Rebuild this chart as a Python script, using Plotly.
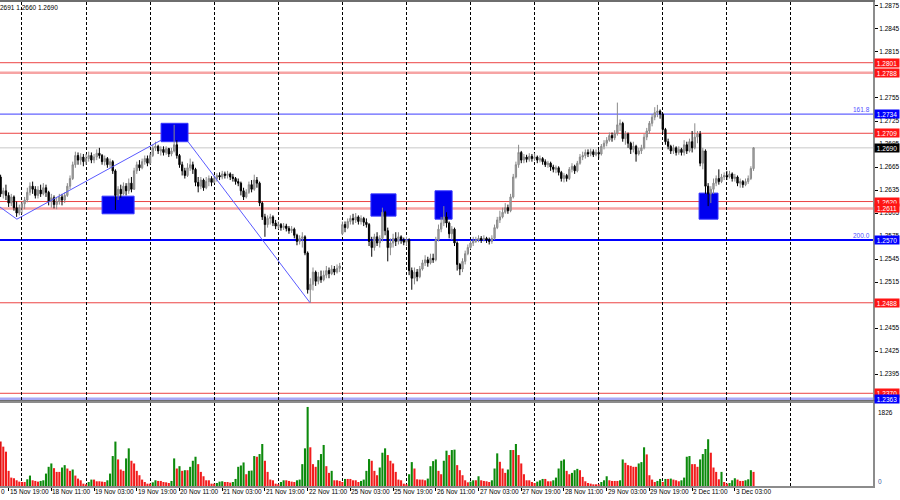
import plotly.graph_objects as go

# ---------------- data (GBPUSD H1, 15 Nov 16:00 .. 3 Dec 10:00) ----------------
opens = [
1.2652,1.2630,1.2634,1.2628,1.2618,1.2626,1.2612,1.2605,
1.2612,1.2617,1.2622,1.2632,1.2640,1.2636,1.2628,1.2635,1.2630,1.2638,1.2632,1.2620,1.2625,1.2616,1.2620,1.2626,
1.2622,1.2628,1.2640,1.2650,1.2668,1.2680,1.2674,1.2678,
1.2672,1.2676,1.2680,1.2674,1.2678,1.2683,1.2680,1.2672,1.2676,1.2668,1.2672,1.2660,1.2628,1.2636,1.2630,1.2640,
1.2634,1.2644,1.2636,1.2660,1.2668,1.2664,1.2672,1.2676,
1.2670,1.2680,1.2690,1.2692,1.2686,1.2688,1.2684,1.2689,1.2682,1.2686,1.2694,1.2680,1.2668,1.2660,1.2654,1.2664,
1.2668,1.2662,1.2645,1.2640,1.2648,1.2638,1.2646,1.2650,
1.2645,1.2650,1.2654,1.2652,1.2656,1.2654,1.2656,1.2652,1.2650,1.2646,1.2644,1.2634,1.2626,1.2632,1.2642,1.2636,
1.2648,1.2644,1.2618,1.2600,1.2590,1.2598,1.2600,1.2592,
1.2588,1.2590,1.2586,1.2588,1.2585,1.2582,1.2584,1.2576,1.2568,1.2572,1.2574,1.2553,1.2505,1.2512,1.2528,1.2516,
1.2522,1.2518,1.2524,1.2530,1.2526,1.2532,1.2528,1.2533,
1.2578,1.2590,1.2586,1.2594,1.2598,1.2596,1.2600,1.2594,1.2598,1.2593,1.2590,1.2568,1.2560,1.2574,1.2566,1.2572,
1.2606,1.2582,1.2560,1.2566,1.2572,1.2568,1.2574,1.2570,
1.2567,1.2570,1.2530,1.2520,1.2528,1.2522,1.2532,1.2540,1.2544,1.2540,1.2546,1.2544,1.2570,1.2584,1.2592,1.2600,
1.2592,1.2578,1.2584,1.2566,1.2538,1.2532,1.2542,1.2552,
1.2560,1.2566,1.2568,1.2570,1.2572,1.2570,1.2572,1.2570,1.2568,1.2572,1.2586,1.2596,1.2600,1.2606,1.2612,1.2608,
1.2626,1.2652,1.2668,1.2684,1.2674,1.2678,1.2675,1.2679,
1.2676,1.2678,1.2674,1.2676,1.2672,1.2668,1.2670,1.2665,1.2662,1.2664,1.2658,1.2650,1.2654,1.2650,1.2662,1.2666,
1.2660,1.2670,1.2678,1.2680,1.2684,1.2682,1.2685,1.2681,
1.2684,1.2682,1.2692,1.2696,1.2700,1.2706,1.2703,1.2709,1.2720,1.2722,1.2702,1.2708,1.2696,1.2688,1.2692,1.2682,
1.2686,1.2690,1.2704,1.2712,1.2722,1.2730,1.2736,1.2738,
1.2734,1.2714,1.2698,1.2692,1.2686,1.2690,1.2684,1.2688,1.2684,1.2694,1.2686,1.2698,1.2690,1.2704,1.2708,1.2670,
1.2686,1.2640,1.2630,1.2636,1.2644,1.2650,1.2646,1.2652,
1.2654,1.2652,1.2656,1.2650,1.2652,1.2644,1.2646,1.2642,1.2646,1.2650,1.2663,
]
highs = [
1.2655,1.2638,1.2642,1.2632,1.2630,1.2628,1.2620,1.2616,
1.2620,1.2626,1.2638,1.2645,1.2646,1.2640,1.2640,1.2642,1.2644,1.2642,1.2634,1.2630,1.2628,1.2626,1.2630,1.2630,
1.2632,1.2644,1.2654,1.2672,1.2685,1.2684,1.2683,1.2682,
1.2682,1.2685,1.2684,1.2682,1.2688,1.2690,1.2682,1.2680,1.2678,1.2676,1.2674,1.2662,1.2640,1.2642,1.2645,1.2644,
1.2650,1.2652,1.2664,1.2672,1.2674,1.2676,1.2680,1.2680,
1.2683,1.2694,1.2698,1.2694,1.2692,1.2692,1.2692,1.2690,1.2690,1.2720,1.2700,1.2682,1.2672,1.2664,1.2670,1.2676,
1.2672,1.2664,1.2652,1.2652,1.2650,1.2652,1.2654,1.2653,
1.2654,1.2657,1.2658,1.2660,1.2659,1.2660,1.2658,1.2656,1.2652,1.2650,1.2646,1.2638,1.2636,1.2646,1.2648,1.2655,
1.2652,1.2646,1.2620,1.2604,1.2602,1.2604,1.2602,1.2596,
1.2594,1.2592,1.2592,1.2591,1.2588,1.2588,1.2586,1.2578,1.2576,1.2580,1.2576,1.2555,1.2520,1.2534,1.2530,1.2528,
1.2530,1.2530,1.2536,1.2534,1.2537,1.2536,1.2538,1.2540,
1.2594,1.2594,1.2598,1.2602,1.2604,1.2605,1.2602,1.2602,1.2600,1.2598,1.2592,1.2574,1.2578,1.2580,1.2576,1.2612,
1.2608,1.2586,1.2572,1.2578,1.2580,1.2580,1.2576,1.2573,
1.2574,1.2572,1.2534,1.2534,1.2532,1.2536,1.2544,1.2550,1.2548,1.2552,1.2552,1.2574,1.2590,1.2600,1.2614,1.2606,
1.2594,1.2588,1.2586,1.2568,1.2540,1.2546,1.2556,1.2564,
1.2570,1.2574,1.2574,1.2576,1.2575,1.2576,1.2574,1.2573,1.2576,1.2590,1.2600,1.2608,1.2612,1.2618,1.2616,1.2630,
1.2656,1.2672,1.2694,1.2686,1.2682,1.2681,1.2683,1.2682,
1.2683,1.2680,1.2680,1.2678,1.2675,1.2673,1.2672,1.2668,1.2667,1.2666,1.2660,1.2657,1.2656,1.2665,1.2670,1.2668,
1.2673,1.2682,1.2685,1.2688,1.2688,1.2689,1.2688,1.2688,
1.2687,1.2695,1.2700,1.2704,1.2710,1.2710,1.2713,1.2749,1.2727,1.2724,1.2712,1.2710,1.2698,1.2698,1.2694,1.2690,
1.2694,1.2708,1.2716,1.2725,1.2734,1.2743,1.2746,1.2740,
1.2735,1.2716,1.2702,1.2694,1.2694,1.2692,1.2692,1.2690,1.2700,1.2698,1.2702,1.2712,1.2722,1.2712,1.2712,1.2690,
1.2688,1.2644,1.2640,1.2650,1.2654,1.2662,1.2656,1.2658,
1.2660,1.2660,1.2658,1.2656,1.2654,1.2650,1.2648,1.2650,1.2654,1.2666,1.2691,
]
lows = [
1.2626,1.2624,1.2622,1.2613,1.2614,1.2608,1.2600,1.2602,
1.2604,1.2610,1.2619,1.2628,1.2630,1.2624,1.2624,1.2626,1.2628,1.2626,1.2615,1.2612,1.2611,1.2610,1.2616,1.2615,
1.2618,1.2626,1.2636,1.2648,1.2664,1.2668,1.2668,1.2666,
1.2668,1.2672,1.2670,1.2670,1.2674,1.2676,1.2668,1.2667,1.2664,1.2664,1.2656,1.2609,1.2622,1.2625,1.2628,1.2628,
1.2630,1.2632,1.2635,1.2656,1.2660,1.2662,1.2668,1.2666,
1.2668,1.2678,1.2686,1.2682,1.2680,1.2680,1.2681,1.2678,1.2679,1.2684,1.2676,1.2664,1.2654,1.2650,1.2652,1.2660,
1.2656,1.2640,1.2632,1.2636,1.2634,1.2636,1.2640,1.2640,
1.2644,1.2646,1.2648,1.2649,1.2650,1.2650,1.2648,1.2646,1.2642,1.2640,1.2628,1.2622,1.2624,1.2630,1.2632,1.2634,
1.2638,1.2614,1.2596,1.2574,1.2586,1.2590,1.2588,1.2584,
1.2584,1.2582,1.2583,1.2581,1.2578,1.2579,1.2572,1.2563,1.2564,1.2560,1.2550,1.2500,1.2488,1.2504,1.2510,1.2512,
1.2514,1.2516,1.2520,1.2520,1.2524,1.2524,1.2526,1.2528,
1.2576,1.2580,1.2584,1.2590,1.2590,1.2592,1.2590,1.2590,1.2588,1.2586,1.2562,1.2548,1.2556,1.2562,1.2560,1.2568,
1.2576,1.2542,1.2550,1.2560,1.2562,1.2564,1.2565,1.2563,
1.2562,1.2524,1.2505,1.2512,1.2516,1.2520,1.2530,1.2536,1.2535,1.2538,1.2540,1.2542,1.2568,1.2580,1.2588,1.2586,
1.2572,1.2570,1.2562,1.2530,1.2524,1.2528,1.2538,1.2550,
1.2558,1.2562,1.2566,1.2567,1.2566,1.2568,1.2566,1.2564,1.2565,1.2570,1.2584,1.2592,1.2598,1.2604,1.2604,1.2606,
1.2624,1.2650,1.2664,1.2670,1.2670,1.2671,1.2672,1.2672,
1.2673,1.2670,1.2671,1.2668,1.2665,1.2664,1.2660,1.2658,1.2657,1.2654,1.2646,1.2645,1.2646,1.2648,1.2658,1.2656,
1.2658,1.2668,1.2674,1.2676,1.2678,1.2679,1.2678,1.2679,
1.2676,1.2680,1.2688,1.2692,1.2698,1.2698,1.2700,1.2706,1.2712,1.2698,1.2694,1.2690,1.2682,1.2684,1.2672,1.2680,
1.2682,1.2688,1.2700,1.2708,1.2718,1.2726,1.2730,1.2728,
1.2710,1.2694,1.2688,1.2682,1.2682,1.2680,1.2681,1.2680,1.2680,1.2682,1.2684,1.2684,1.2688,1.2696,1.2666,1.2662,
1.2630,1.2614,1.2618,1.2630,1.2640,1.2642,1.2644,1.2648,
1.2648,1.2650,1.2646,1.2646,1.2640,1.2638,1.2638,1.2640,1.2643,1.2648,1.2660,
]
closes = [
1.2630,1.2634,1.2628,1.2618,1.2626,1.2612,1.2605,1.2612,
1.2617,1.2622,1.2632,1.2640,1.2636,1.2628,1.2635,1.2630,1.2638,1.2632,1.2620,1.2625,1.2616,1.2620,1.2626,1.2622,
1.2628,1.2640,1.2650,1.2668,1.2680,1.2674,1.2678,1.2672,
1.2676,1.2680,1.2674,1.2678,1.2683,1.2680,1.2672,1.2676,1.2668,1.2672,1.2660,1.2628,1.2636,1.2630,1.2640,1.2634,
1.2644,1.2636,1.2660,1.2668,1.2664,1.2672,1.2676,1.2670,
1.2680,1.2690,1.2692,1.2686,1.2688,1.2684,1.2689,1.2682,1.2686,1.2694,1.2680,1.2668,1.2660,1.2654,1.2664,1.2668,
1.2662,1.2645,1.2640,1.2648,1.2638,1.2646,1.2650,1.2645,
1.2650,1.2654,1.2652,1.2656,1.2654,1.2656,1.2652,1.2650,1.2646,1.2644,1.2634,1.2626,1.2632,1.2642,1.2636,1.2648,
1.2644,1.2618,1.2600,1.2590,1.2598,1.2600,1.2592,1.2588,
1.2590,1.2586,1.2588,1.2585,1.2582,1.2584,1.2576,1.2568,1.2572,1.2574,1.2553,1.2505,1.2512,1.2528,1.2516,1.2522,
1.2518,1.2524,1.2530,1.2526,1.2532,1.2528,1.2533,1.2536,
1.2590,1.2586,1.2594,1.2598,1.2596,1.2600,1.2594,1.2598,1.2593,1.2590,1.2568,1.2560,1.2574,1.2566,1.2572,1.2606,
1.2582,1.2560,1.2566,1.2572,1.2568,1.2574,1.2570,1.2567,
1.2570,1.2530,1.2520,1.2528,1.2522,1.2532,1.2540,1.2544,1.2540,1.2546,1.2544,1.2570,1.2584,1.2592,1.2600,1.2592,
1.2578,1.2584,1.2566,1.2538,1.2532,1.2542,1.2552,1.2560,
1.2566,1.2568,1.2570,1.2572,1.2570,1.2572,1.2570,1.2568,1.2572,1.2586,1.2596,1.2600,1.2606,1.2612,1.2608,1.2626,
1.2652,1.2668,1.2684,1.2674,1.2678,1.2675,1.2679,1.2676,
1.2678,1.2674,1.2676,1.2672,1.2668,1.2670,1.2665,1.2662,1.2664,1.2658,1.2650,1.2654,1.2650,1.2662,1.2666,1.2660,
1.2670,1.2678,1.2680,1.2684,1.2682,1.2685,1.2681,1.2684,
1.2682,1.2692,1.2696,1.2700,1.2706,1.2703,1.2709,1.2720,1.2722,1.2702,1.2708,1.2696,1.2688,1.2692,1.2682,1.2686,
1.2690,1.2704,1.2712,1.2722,1.2730,1.2736,1.2738,1.2734,
1.2714,1.2698,1.2692,1.2686,1.2690,1.2684,1.2688,1.2684,1.2694,1.2686,1.2698,1.2690,1.2704,1.2708,1.2670,1.2686,
1.2640,1.2630,1.2636,1.2644,1.2650,1.2646,1.2652,1.2654,
1.2652,1.2656,1.2650,1.2652,1.2644,1.2646,1.2642,1.2646,1.2650,1.2663,1.2690,
]
volumes = [
1026,909,793,350,194,179,132,101,
93,93,155,241,132,117,101,117,132,287,443,521,412,326,326,427,
482,404,350,381,241,171,132,54,
39,93,148,148,109,109,101,93,132,287,692,1026,614,381,350,637,
870,583,521,350,249,148,93,54,
54,85,132,117,117,93,85,70,117,637,404,458,350,365,365,443,
583,676,505,326,225,132,132,54,
54,70,101,109,93,93,78,93,163,443,474,544,272,350,357,692,
676,738,971,583,326,148,132,54,
39,93,132,132,117,101,93,132,148,505,870,1826,894,505,443,598,
738,948,458,303,350,132,132,117,
93,163,163,163,132,132,93,117,148,350,622,583,350,249,427,769,
870,715,583,521,326,148,132,54,
39,272,552,404,155,148,148,132,171,458,575,614,350,272,583,816,
715,831,840,482,365,249,132,85,
101,132,132,225,132,117,109,93,132,404,754,559,404,303,381,831,
831,971,715,521,272,132,132,93,
70,101,132,163,163,109,109,132,194,404,583,614,350,272,303,365,
396,365,210,109,70,54,39,39,
39,93,132,225,132,117,117,117,132,614,536,482,466,443,443,521,
552,894,730,249,148,93,117,163,
93,163,163,171,148,132,109,132,194,676,692,505,505,443,614,738,
855,1080,769,427,326,155,326,93,
54,70,132,179,148,117,117,132,155,365,326,
]
tick_labels = ["15 Nov 19:00", "18 Nov 11:00", "19 Nov 03:00", "19 Nov 19:00",
               "20 Nov 11:00", "21 Nov 03:00", "21 Nov 19:00", "22 Nov 11:00",
               "25 Nov 03:00", "25 Nov 19:00", "26 Nov 11:00", "27 Nov 03:00",
               "27 Nov 19:00", "28 Nov 11:00", "29 Nov 03:00", "29 Nov 19:00",
               "2 Dec 11:00", "3 Dec 03:00"]
price_ticks = [1.2365, 1.2395, 1.2425, 1.2455, 1.2485, 1.2515, 1.2545, 1.2575, 1.2605,
               1.2635, 1.2665, 1.2695, 1.2725, 1.2755, 1.2785, 1.2815, 1.2845, 1.2875]

level_prices = [1.2801, 1.2788, 1.2734, 1.2709, 1.2690, 1.2620, 1.2611, 1.2570, 1.2488, 1.2370, 1.2363]
level_colors = ["#ec4444", "#f6a4a4", "#3c3cff", "#ec4444", "#c8c8c8", "#ec4444", "#f6a4a4",
                "#0000ff", "#ec4444", "#ec4444", "#a8a8f6"]
level_widths = [1, 2.5, 1, 1, 1, 1, 2.5, 2, 1, 1, 2.5]
level_label_bg = ["#ff1414", "#ff1414", "#0000ff", "#ff1414", "#000000", "#ff1414", "#ff1414",
                  "#0000ff", "#ff1414", "#ff1414", "#0000ff"]
fib_labels = ["161.8", "200.0"]
fib_prices = [1.2734, 1.2570]

zone_x0 = [38.0, 60.1, 138.7, 162.7, 261.6]
zone_x1 = [50.0, 70.2, 148.1, 169.1, 268.7]
zone_y0 = [1.2604, 1.2698, 1.2601, 1.2597, 1.2597]
zone_y1 = [1.2627, 1.2722, 1.2630, 1.2634, 1.2631]

wave1_x = [-0.3, 6.1, 60.1]
wave1_y = [1.2613, 1.2597, 1.2700]
wave2_x = [70.2, 115.9]
wave2_y = [1.2698, 1.2488]

header_text = "2691 1.2660 1.2690"

# ---------------- figure ----------------
n = len(closes)
idx = list(range(n))
highs = [max(h, o, c) for h, o, c in zip(highs, opens, closes)]
lows = [min(l, o, c) for l, o, c in zip(lows, opens, closes)]

vol_colors = ["#e01010"]
for i in range(1, n):
    vol_colors.append("#0c8a0c" if volumes[i] > volumes[i - 1] else "#f21c1c")

day_starts = [8 + 24 * d for d in range(13)]
label_pos = [3 + 16 * k for k in range(len(tick_labels))]

FONT = "Liberation Sans"
FS = 6.5
XR = [-0.2247, 326.74]

fig = go.Figure()

fig.add_trace(go.Scatter(x=wave1_x, y=wave1_y, mode="lines",
                         line=dict(color="#5a5aff", width=1), hoverinfo="skip",
                         showlegend=False, xaxis="x", yaxis="y"))
fig.add_trace(go.Scatter(x=wave2_x, y=wave2_y, mode="lines",
                         line=dict(color="#5a5aff", width=1), hoverinfo="skip",
                         showlegend=False, xaxis="x", yaxis="y"))

fig.add_trace(go.Candlestick(
    x=idx, open=opens, high=highs, low=lows, close=closes,
    increasing=dict(line=dict(color="#8a8a8a", width=1), fillcolor="#aaaaaa"),
    decreasing=dict(line=dict(color="#000000", width=1), fillcolor="#000000"),
    whiskerwidth=0, hoverinfo="skip", showlegend=False, xaxis="x", yaxis="y"))

fig.add_trace(go.Bar(x=idx, y=volumes, marker=dict(color=vol_colors, line=dict(width=0)),
                     hoverinfo="skip", showlegend=False, xaxis="x2", yaxis="y2"))

shapes = []
for x0, x1, y0, y1 in zip(zone_x0, zone_x1, zone_y0, zone_y1):
    shapes.append(dict(type="rect", xref="x", yref="y", x0=x0, x1=x1, y0=y0, y1=y1,
                       fillcolor="#0000f0", line=dict(color="#3434ff", width=1), layer="between"))
for p, c, w in zip(level_prices, level_colors, level_widths):
    shapes.append(dict(type="line", xref="paper", yref="y", x0=0, x1=873 / 900, y0=p, y1=p,
                       line=dict(color=c, width=w), layer="between"))

annotations = []
for p, bg in zip(level_prices, level_label_bg):
    annotations.append(dict(xref="paper", yref="y", x=874 / 900, y=p, xanchor="left",
                            yanchor="middle", text=f"{p:.4f}", showarrow=False,
                            font=dict(family=FONT, size=FS, color="#ffffff"),
                            bgcolor=bg, width=24, height=8, align="center", borderpad=0))
for t, p in zip(fib_labels, fib_prices):
    annotations.append(dict(xref="paper", yref="y", x=872 / 900, y=p, xanchor="right",
                            yanchor="bottom", text=t, showarrow=False,
                            font=dict(family=FONT, size=FS, color="#5050ff"), yshift=-1))
for t, pos in zip(tick_labels, label_pos):
    annotations.append(dict(xref="x2", yref="paper", x=pos, y=9 / 500, xanchor="left",
                            yanchor="middle", text=t, showarrow=False, xshift=-1,
                            font=dict(family=FONT, size=FS, color="#000000")))
annotations.append(dict(xref="paper", yref="paper", x=0, y=9 / 500, xanchor="left",
                        yanchor="middle", text="0", showarrow=False, xshift=-1,
                        font=dict(family=FONT, size=FS, color="#000000")))
annotations.append(dict(xref="paper", yref="y2", x=876 / 900, y=max(volumes), xanchor="left",
                        yanchor="top", text=str(max(volumes)), showarrow=False,
                        font=dict(family=FONT, size=FS, color="#000000")))
annotations.append(dict(xref="paper", yref="paper", x=876 / 900, y=19 / 500, xanchor="left",
                        yanchor="middle", text="0", showarrow=False,
                        font=dict(family=FONT, size=FS, color="#4060a0")))
annotations.append(dict(xref="paper", yref="paper", x=0, y=493 / 500, xanchor="left",
                        yanchor="middle", text=header_text, showarrow=False, xshift=-2,
                        font=dict(family=FONT, size=FS, color="#000000")))

axis_line = "#8c8c8c"
fig.update_layout(
    width=900, height=500, margin=dict(l=0, r=0, t=0, b=0, autoexpand=False),
    paper_bgcolor="#ffffff", plot_bgcolor="#ffffff",
    hovermode=False, showlegend=False, bargap=0.22,
    shapes=shapes, annotations=annotations,
    xaxis=dict(domain=[0, 873 / 900], range=XR, anchor="y", automargin=False,
               tickmode="array", tickvals=day_starts, showticklabels=False, ticks="",
               showgrid=True, gridcolor="#000000", gridwidth=1, griddash="3px,2px",
               zeroline=False, showline=True, mirror=True, linecolor="#6e6e6e", linewidth=2,
               rangeslider=dict(visible=False)),
    yaxis=dict(domain=[100 / 500, 498 / 500], range=[1.236125, 1.288015], anchor="x",
               side="right", tickmode="array", tickvals=price_ticks, automargin=False,
               ticktext=[f"{v:.4f}" for v in price_ticks], ticks="outside", ticklen=3,
               tickcolor="#000000", tickfont=dict(family=FONT, size=FS, color="#000000"),
               showgrid=False, zeroline=False, showline=True, linecolor=axis_line, linewidth=2),
    xaxis2=dict(domain=[0, 873 / 900], range=XR, anchor="y2", matches="x", automargin=False,
                tickmode="array", tickvals=day_starts, showticklabels=False, ticks="",
                showgrid=True, gridcolor="#000000", gridwidth=1, griddash="3px,2px",
                minor=dict(tickmode="array", tickvals=label_pos, ticks="outside", ticklen=3,
                           tickcolor="#000000", showgrid=False),
                zeroline=False, showline=True, mirror=True, linecolor=axis_line, linewidth=2),
    yaxis2=dict(domain=[14 / 500, 97 / 500], range=[0, 1917.3], anchor="x2", side="right",
                showticklabels=False, ticks="", showgrid=False, zeroline=False, automargin=False,
                showline=True, linecolor=axis_line, linewidth=2),
)

fig.write_html("out.html", config={"displayModeBar": False, "staticPlot": True},
               post_script="document.body.style.margin='0';document.body.style.padding='0';"
                           "document.body.style.overflow='hidden';")
